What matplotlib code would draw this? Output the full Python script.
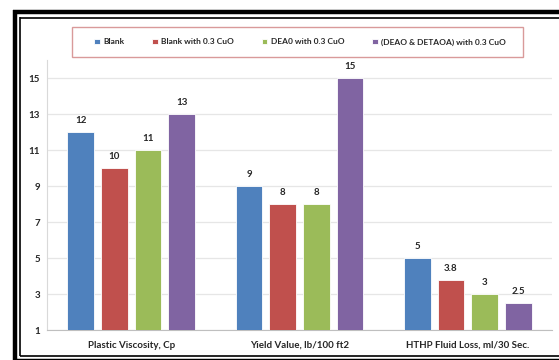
import matplotlib.pyplot as plt
import numpy as np
from matplotlib.lines import Line2D
from matplotlib.patches import Rectangle

categories = ["Plastic Viscosity, Cp", "Yield Value, lb/100 ft2", "HTHP Fluid Loss, ml/30 Sec."]
series_names = ["Blank", "Blank with 0.3 CuO", "DEA0 with 0.3 CuO", "(DEAO & DETAOA) with 0.3 CuO"]
blank = [12, 9, 5]
blank_cuo = [10, 8, 3.8]
deao_cuo = [11, 8, 3]
deao_detaoa_cuo = [13, 15, 2.5]
value_labels = [["12", "9", "5"], ["10", "8", "3.8"], ["11", "8", "3"], ["13", "15", "2.5"]]
y_ticks = [1, 3, 5, 7, 9, 11, 13, 15]

colors = ["#4F81BD", "#C0504D", "#9BBB59", "#8064A2"]
plt.rcParams['font.family'] = ['Lato', 'DejaVu Sans']

W, H = 559, 360
fig = plt.figure(figsize=(W / 100, H / 100), dpi=100)
ax = fig.add_axes([47 / W, 30 / H, (552 - 47) / W, 270 / H])

base = 1
x = np.arange(len(categories))
width = 0.16
step = 0.2
all_series = [blank, blank_cuo, deao_cuo, deao_detaoa_cuo]
for i, (vals, name, col) in enumerate(zip(all_series, series_names, colors)):
    pos = x + (i - 1.5) * step
    heights = [v - base for v in vals]
    ax.bar(pos, heights, width, bottom=base, color=col, edgecolor="white",
           linewidth=0.6, label=name, zorder=3)
    for p, v, t in zip(pos, vals, value_labels[i]):
        ax.annotate(t, (p, v), xytext=(0, 5), textcoords="offset points",
                    ha="center", va="bottom", fontsize=7, fontweight="bold",
                    color="#262626")

ax.set_xlim(-0.5, 2.5)
ax.set_ylim(1, 16)
ax.set_yticks(y_ticks)
ax.set_xticks(x)
ax.set_xticklabels(categories)
ax.tick_params(axis="both", length=0, labelsize=7, colors="#262626")
ax.tick_params(axis="x", pad=8)
ax.tick_params(axis="y", pad=5)
for lbl in ax.get_xticklabels() + ax.get_yticklabels():
    lbl.set_fontweight("bold")
ax.yaxis.grid(True, color="#E6E6E6", linewidth=0.9, zorder=0)
for s in ["top", "right"]:
    ax.spines[s].set_visible(False)
ax.spines["left"].set_color("#D9D9D9")
ax.spines["bottom"].set_color("#BFBFBF")

# legend entries without frame, the box is drawn separately
leg = fig.legend(loc="center", bbox_to_anchor=(300 / W, 1 - 42 / H), ncol=4,
                 prop={"size": 6.0, "weight": "bold"}, frameon=False,
                 handlelength=0.7, handleheight=0.7, handletextpad=0.4,
                 columnspacing=3.3)
for t in leg.get_texts():
    t.set_color("#262626")
fig.add_artist(Rectangle((72 / W, 1 - 57 / H), (523 - 72) / W, 30 / H,
                         transform=fig.transFigure, fill=False,
                         edgecolor="#D99A9A", linewidth=1.0))

# double-line border around the chart
def px_line(xs, ys, lw):
    fig.add_artist(Line2D([a / W for a in xs], [1 - b / H for b in ys],
                          color="black", linewidth=lw, solid_capstyle="butt"))

px_line([15, 15], [10, 360], 3.2)
px_line([13, W], [12, 12], 3.2)
px_line([20, 20], [17, 356], 1.2)
px_line([19.5, W], [17.5, 17.5], 1.2)
px_line([19.5, W], [356, 356], 1.2)
px_line([13, W], [359.5, 359.5], 2.5)

fig.savefig("out.png", dpi=100)
